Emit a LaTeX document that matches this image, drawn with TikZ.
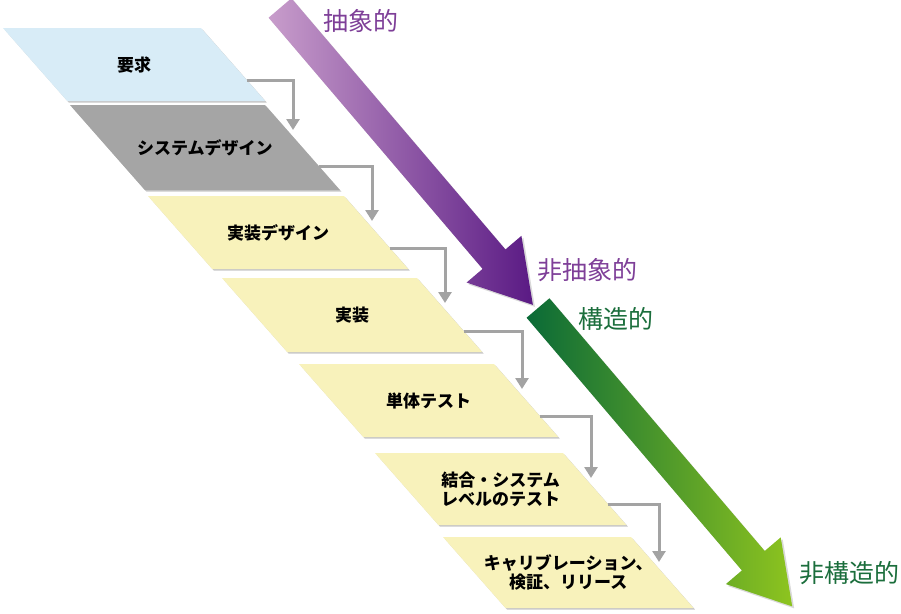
\documentclass[tikz,border=0pt]{standalone}
\usepackage{fontspec}
\newfontfamily\jp{Noto Sans CJK JP}
\usetikzlibrary{arrows.meta,calc}

\definecolor{reqblue}{HTML}{D8ECF7}
\definecolor{sysgray}{HTML}{A5A5A5}
\definecolor{stageyellow}{HTML}{F8F2BB}
\definecolor{flowgray}{HTML}{A3A3A3}
\definecolor{absLight}{HTML}{C89DCB}
\definecolor{absDark}{HTML}{5A1A84}
\definecolor{absText}{HTML}{7E3F98}
\definecolor{strDark}{HTML}{0A6A37}
\definecolor{strLight}{HTML}{8EC41F}
\definecolor{strText}{HTML}{1B6E3C}

\begin{document}
\begin{tikzpicture}[x=1pt,y=-1pt,
    stage/.style={font=\jp\bfseries\fontsize{17}{19}\selectfont, align=center},
    flow/.style={draw=flowgray, line width=3pt, -{Triangle[width=13pt,length=11pt]}},
    tag/.style={font=\jp\fontsize{25}{28}\selectfont}]
\useasboundingbox (0,0) rectangle (901,613);

% big arrows
\begin{scope}[shift={(282,10)}, rotate=-49.57]
  \fill[black!15] (0,-15) -- (330,-15) -- (330,-36) -- (390,0) -- (330,36) -- (330,15) -- (0,15) -- cycle;
\end{scope}
\begin{scope}[shift={(280,8)}, rotate=-49.57]
  \shade[left color=absLight, right color=absDark] (0,-15) -- (330,-15) -- (330,-36) -- (390,0) -- (330,36) -- (330,15) -- (0,15) -- cycle;
\end{scope}
\begin{scope}[shift={(540,310)}, rotate=-49.57]
  \fill[black!15] (0,-15) -- (332,-15) -- (332,-36) -- (392,0) -- (332,36) -- (332,15) -- (0,15) -- cycle;
\end{scope}
\begin{scope}[shift={(538,308)}, rotate=-49.57]
  \shade[left color=strDark, right color=strLight] (0,-15) -- (332,-15) -- (332,-36) -- (392,0) -- (332,36) -- (332,15) -- (0,15) -- cycle;
\end{scope}

\node[tag, text=absText] (abs) at (361,21) {抽象的};
\node[tag, text=absText] (nonabs) at (587,270) {非抽象的};
\node[tag, text=strText] (str) at (616,319) {構造的};
\node[tag, text=strText] (nonstr) at (849,573) {非構造的};

% stages
\foreach \n/\x/\y/\h/\w/\col/\lbl in {
    s1/3/28/73/198/reqblue/{要求},
    s2/70/105/85/195/sysgray/{システムデザイン},
    s3/148/196/73/196/stageyellow/{実装デザイン},
    s4/222/278/74/195/stageyellow/{実装},
    s5/299/364/73/195/stageyellow/{単体テスト},
    s6/375/453/72/188/stageyellow/{結合・システム\\レベルのテスト},
    s7/443/537/71/188/stageyellow/{キャリブレーション、\\検証、リリース}}
{
  \fill[black!22] (\x+1.5,\y+1.5) -- ++(\w,0) -- ++(0.88*\h,\h) -- ++(-\w,0) -- cycle;
  \fill[\col] (\x,\y) -- ++(\w,0) -- ++(0.88*\h,\h) -- ++(-\w,0) -- cycle;
  \node[stage] (\n) at (\x+\w/2+0.44*\h,\y+\h/2) {\lbl};
  \coordinate (\n-out) at (\x+\w+0.63*\h,\y+0.72*\h);
  \coordinate (\n-in) at (\x+\w+28,\y+25);
}

% flow between stages
\draw[flow] (s1-out) -| (s2-in);
\draw[flow] (s2-out) -| (s3-in);
\draw[flow] (s3-out) -| (s4-in);
\draw[flow] (s4-out) -| (s5-in);
\draw[flow] (s5-out) -| (s6-in);
\draw[flow] (s6-out) -| (s7-in);
\end{tikzpicture}
\end{document}
